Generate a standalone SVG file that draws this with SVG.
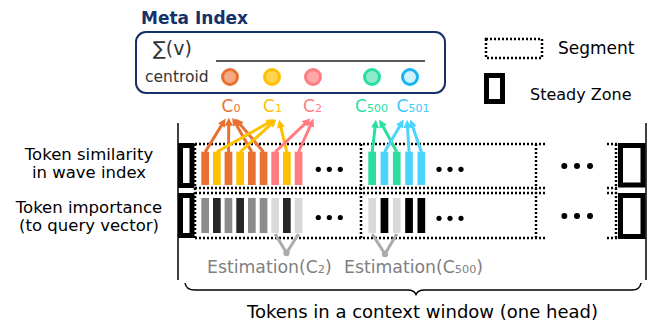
<svg xmlns="http://www.w3.org/2000/svg" width="651" height="322" viewBox="0 0 651 322">
<style>
text{font-family:"DejaVu Sans","Liberation Sans",sans-serif;}
.dot{fill:none;stroke:#000;stroke-width:2.5;stroke-dasharray:2 2;}
.sz{fill:#fff;stroke:#000;stroke-width:5;}
.thin{stroke:#000;stroke-width:1.5;fill:none;}
.lbl{font-size:16.5px;fill:#000;text-anchor:middle;}
.est{font-size:17.3px;fill:#7f7f7f;}
.sub{font-size:65%;}
.ell{fill:#000;}
.or{fill:#E97132}.ye{fill:#FFC000}.pk{fill:#FF7C80}.gr{fill:#2ADFA0}.bl{fill:#4DD4FE}
.g1{fill:#8C8C8C}.g2{fill:#262626}.g3{fill:#D9D9D9}.g4{fill:#000}
.ao{stroke:#E97132;stroke-width:3;marker-end:url(#mo)}
.ay{stroke:#FFC000;stroke-width:3;marker-end:url(#my)}
.ap{stroke:#FF7C80;stroke-width:3;marker-end:url(#mp)}
.ag{stroke:#2ADFA0;stroke-width:3;marker-end:url(#mg)}
.ab{stroke:#4DD4FE;stroke-width:3;marker-end:url(#mb)}
.ec{stroke:#ABABAB;stroke-width:3;fill:none;}
</style>
<defs>
<marker id="mo" viewBox="0 0 10 10" refX="3" refY="5" markerWidth="9" markerHeight="8" markerUnits="userSpaceOnUse" orient="auto"><path d="M0,0L10,5L0,10z" fill="#E97132"/></marker>
<marker id="my" viewBox="0 0 10 10" refX="3" refY="5" markerWidth="9" markerHeight="8" markerUnits="userSpaceOnUse" orient="auto"><path d="M0,0L10,5L0,10z" fill="#FFC000"/></marker>
<marker id="mp" viewBox="0 0 10 10" refX="3" refY="5" markerWidth="9" markerHeight="8" markerUnits="userSpaceOnUse" orient="auto"><path d="M0,0L10,5L0,10z" fill="#FF7C80"/></marker>
<marker id="mg" viewBox="0 0 10 10" refX="3" refY="5" markerWidth="9" markerHeight="8" markerUnits="userSpaceOnUse" orient="auto"><path d="M0,0L10,5L0,10z" fill="#2ADFA0"/></marker>
<marker id="mb" viewBox="0 0 10 10" refX="3" refY="5" markerWidth="9" markerHeight="8" markerUnits="userSpaceOnUse" orient="auto"><path d="M0,0L10,5L0,10z" fill="#4DD4FE"/></marker>
</defs>
<rect width="651" height="322" fill="#fff"/>

<g id="meta-index">
<text x="141" y="24" font-size="17" font-weight="bold" fill="#16306A">Meta Index</text>
<rect x="136" y="32" width="309" height="61" rx="10" fill="#fff" stroke="#16306A" stroke-width="2"/>
<text x="153" y="55" font-size="19" fill="#333">∑(v)</text>
<line x1="216" y1="61" x2="425" y2="61" stroke="#222" stroke-width="1.5"/>
<text x="145" y="82" font-size="15.5" fill="#333">centroid</text>
<circle cx="230" cy="77" r="7.5" fill="#F2AA84" stroke="#E97132" stroke-width="3"/>
<circle cx="272" cy="77" r="7.5" fill="#FFD54F" stroke="#FFC000" stroke-width="3"/>
<circle cx="313" cy="77" r="7.5" fill="#FFA7AA" stroke="#FF7C80" stroke-width="3"/>
<circle cx="372" cy="77" r="7.5" fill="#8FEBC9" stroke="#2ADFA0" stroke-width="3"/>
<circle cx="410" cy="77" r="7.5" fill="#D1F1FF" stroke="#17B4F0" stroke-width="3"/>
</g>

<g id="centroid-labels" font-size="17">
<text x="221.5" y="112" fill="#E97132">C<tspan class="sub">0</tspan></text>
<text x="263" y="112" fill="#FFC000">C<tspan class="sub">1</tspan></text>
<text x="303" y="112" fill="#FF7C80">C<tspan class="sub">2</tspan></text>
<text x="355" y="112" fill="#2ADFA0">C<tspan class="sub">500</tspan></text>
<text x="396.5" y="112" fill="#3EC8F5">C<tspan class="sub">501</tspan></text>
</g>

<g id="legend-segment">
<rect class="dot" x="486" y="39" width="56" height="19"/>
<text x="558" y="54" font-size="17">Segment</text>
</g>
<g id="legend-steady-zone">
<rect class="sz" x="486.5" y="75.5" width="16" height="26"/>
<text x="530" y="100" font-size="16">Steady Zone</text>
</g>

<g id="row-labels">
<text class="lbl" x="89" y="160">Token similarity</text>
<text class="lbl" x="89" y="178">in wave index</text>
<text class="lbl" x="89" y="213">Token importance</text>
<text class="lbl" x="89" y="231">(to query vector)</text>
</g>

<g id="context-window">
<line class="thin" x1="178" y1="123" x2="178" y2="280"/>
<line class="thin" x1="646" y1="123" x2="646" y2="280"/>
<path class="thin" d="M185,283 Q186,290 195,290 L408,290 Q414,290 416,294.5 Q418,290 424,290 L632,290 Q640,290 641,283"/>
<text x="422.5" y="318" font-size="18" text-anchor="middle">Tokens in a context window (one head)</text>
</g>

<g id="segments">
<line class="dot" x1="195" y1="144" x2="547" y2="144"/>
<line class="dot" x1="195" y1="188" x2="547" y2="188"/>
<line class="dot" x1="195" y1="193" x2="547" y2="193"/>
<line class="dot" x1="195" y1="238" x2="547" y2="238"/>
<line class="dot" x1="195" y1="144" x2="195" y2="238"/>
<line class="dot" x1="361" y1="144" x2="361" y2="238"/>
<line class="dot" x1="536" y1="144" x2="536" y2="238"/>
<line class="dot" x1="607" y1="144" x2="617" y2="144"/>
<line class="dot" x1="607" y1="188" x2="617" y2="188"/>
<line class="dot" x1="607" y1="193" x2="617" y2="193"/>
<line class="dot" x1="607" y1="238" x2="617" y2="238"/>
<line class="dot" x1="616" y1="144" x2="616" y2="238"/>
</g>

<g id="steady-zone-left">
<rect class="sz" x="180.5" y="145.5" width="11.5" height="40"/>
<rect class="sz" x="180.5" y="195.5" width="11.5" height="40"/>
</g>
<g id="steady-zone-right">
<rect class="sz" x="620.5" y="145.5" width="22.5" height="39.5"/>
<rect class="sz" x="620.5" y="195.5" width="22.5" height="41"/>
</g>

<g id="connectors" fill="none">
<line class="ao" x1="205.2" y1="152" x2="222.7" y2="123.4"/>
<line class="ao" x1="228.5" y1="152" x2="228.8" y2="123.3"/>
<line class="ao" x1="251.8" y1="152" x2="235.1" y2="122.5"/>
<line class="ao" x1="263.5" y1="152" x2="239" y2="122.9"/>
<line class="ay" x1="216.8" y1="152" x2="269.5" y2="122.1"/>
<line class="ay" x1="240.2" y1="152" x2="272.3" y2="123.2"/>
<line class="ay" x1="286.8" y1="152" x2="280.4" y2="125.2"/>
<line class="ap" x1="275.2" y1="152" x2="306.4" y2="122.3"/>
<line class="ap" x1="298.5" y1="152" x2="311.3" y2="123.7"/>
<line class="ag" x1="372.2" y1="152" x2="375.3" y2="125.3"/>
<line class="ag" x1="396.8" y1="152" x2="382" y2="124.5"/>
<line class="ab" x1="384.5" y1="152" x2="400.8" y2="124.4"/>
<line class="ab" x1="409.1" y1="152" x2="407.4" y2="125.3"/>
<line class="ab" x1="421.4" y1="152" x2="412.1" y2="124.9"/>
<polyline class="ec" points="275.2,234 286.5,253 298.5,234"/>
<circle cx="286.5" cy="253" r="3.2" fill="#ABABAB"/>
<polyline class="ec" points="372.2,234 385,254 396.8,234"/>
<circle cx="385" cy="254" r="3.2" fill="#ABABAB"/>
</g>

<g id="segment-1">
<rect class="or" x="201.3" y="151.7" width="7.7" height="33.3"/>
<rect class="ye" x="213" y="151.7" width="7.7" height="33.3"/>
<rect class="or" x="224.6" y="151.7" width="7.7" height="33.3"/>
<rect class="ye" x="236.3" y="151.7" width="7.7" height="33.3"/>
<rect class="or" x="248" y="151.7" width="7.7" height="33.3"/>
<rect class="or" x="259.7" y="151.7" width="7.7" height="33.3"/>
<rect class="pk" x="271.3" y="151.7" width="7.7" height="33.3"/>
<rect class="ye" x="283" y="151.7" width="7.7" height="33.3"/>
<rect class="pk" x="294.7" y="151.7" width="7.7" height="33.3"/>
<rect class="g1" x="201.3" y="198" width="7.7" height="35"/>
<rect class="g2" x="213" y="198" width="7.7" height="35"/>
<rect class="g1" x="224.6" y="198" width="7.7" height="35"/>
<rect class="g2" x="236.3" y="198" width="7.7" height="35"/>
<rect class="g1" x="248" y="198" width="7.7" height="35"/>
<rect class="g1" x="259.7" y="198" width="7.7" height="35"/>
<rect class="g3" x="271.3" y="198" width="7.7" height="35"/>
<rect class="g2" x="283" y="198" width="7.7" height="35"/>
<rect class="g3" x="294.7" y="198" width="7.7" height="35"/>
<circle class="ell" cx="318.3" cy="169.3" r="2.6"/><circle class="ell" cx="329.3" cy="169.3" r="2.6"/><circle class="ell" cx="340.3" cy="169.3" r="2.6"/>
<circle class="ell" cx="318.3" cy="217.5" r="2.6"/><circle class="ell" cx="329.3" cy="217.5" r="2.6"/><circle class="ell" cx="340.3" cy="217.5" r="2.6"/>
<text class="est" x="207" y="273">Estimation(C<tspan class="sub">2</tspan>)</text>
</g>

<g id="segment-2">
<rect class="gr" x="368.3" y="151.7" width="7.7" height="33.3"/>
<rect class="bl" x="380.6" y="151.7" width="7.7" height="33.3"/>
<rect class="gr" x="392.9" y="151.7" width="7.7" height="33.3"/>
<rect class="bl" x="405.2" y="151.7" width="7.7" height="33.3"/>
<rect class="bl" x="417.5" y="151.7" width="7.7" height="33.3"/>
<rect class="g3" x="368.3" y="198" width="7.7" height="35"/>
<rect class="g4" x="380.6" y="198" width="7.7" height="35"/>
<rect class="g3" x="392.9" y="198" width="7.7" height="35"/>
<rect class="g4" x="405.2" y="198" width="7.7" height="35"/>
<rect class="g4" x="417.5" y="198" width="7.7" height="35"/>
<circle class="ell" cx="439" cy="169.3" r="2.6"/><circle class="ell" cx="450" cy="169.3" r="2.6"/><circle class="ell" cx="461" cy="169.3" r="2.6"/>
<circle class="ell" cx="439" cy="218.3" r="2.6"/><circle class="ell" cx="450" cy="218.3" r="2.6"/><circle class="ell" cx="461" cy="218.3" r="2.6"/>
<text class="est" x="344" y="273">Estimation(C<tspan class="sub">500</tspan>)</text>
</g>

<g id="more-segments">
<circle class="ell" cx="564.3" cy="166" r="3"/><circle class="ell" cx="577" cy="166" r="3"/><circle class="ell" cx="590" cy="166" r="3"/>
<circle class="ell" cx="564.3" cy="216" r="3"/><circle class="ell" cx="577" cy="216" r="3"/><circle class="ell" cx="590" cy="216" r="3"/>
</g>
</svg>
